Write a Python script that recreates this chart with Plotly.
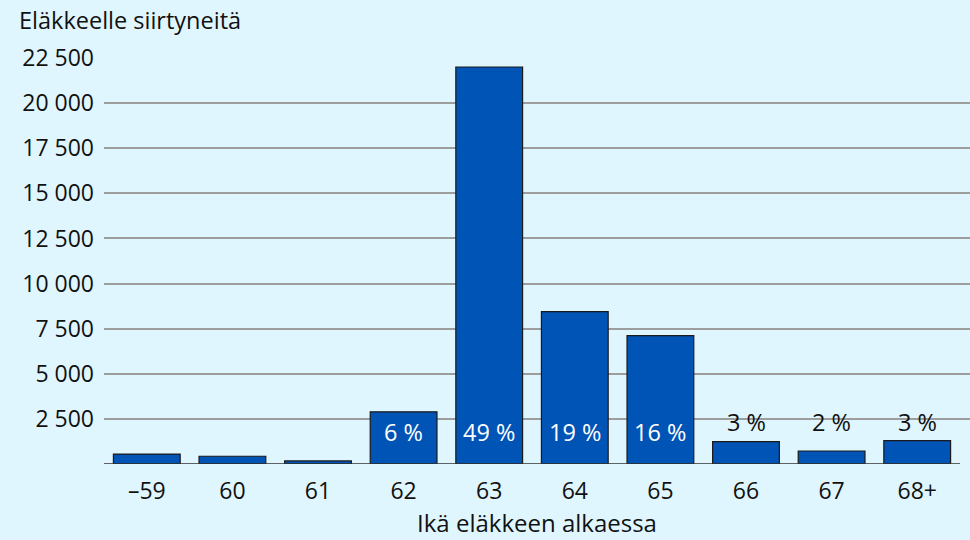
import plotly.graph_objects as go

# Eläkkeelle siirtyneet iän mukaan
ages = ["–59", "60", "61", "62", "63", "64", "65", "66", "67", "68+"]
counts = [550, 430, 170, 2890, 22000, 8440, 7110, 1240, 720, 1290]
pct_labels = ["", "", "", "6 %", "49 %", "19 %", "16 %", "3 %", "2 %", "3 %"]

y_ticks = [2500, 5000, 7500, 10000, 12500, 15000, 17500, 20000, 22500]
y_ticktext = ["2 500", "5 000", "7 500", "10 000", "12 500", "15 000", "17 500", "20 000", "22 500"]

BG = "#e0f6fe"
BAR = "#0054b6"
FONT = "Open Sans"

fig = go.Figure()
fig.add_trace(go.Bar(
    x=ages, y=counts,
    marker=dict(color=BAR, line=dict(color="#1a1a1a", width=1.2)),
    hoverinfo="x+y",
))

# prosenttiosuudet: isoissa pylväissä valkoisena sisällä, pienissä mustana yläpuolella
# (kategoria-akselilla numeronnäköinen x tulkitaan indeksiksi, joten käytetään indeksiä)
for i, (cnt, lab) in enumerate(zip(counts, pct_labels)):
    if not lab:
        continue
    inside = cnt > 2500
    fig.add_annotation(
        x=i, y=1800 if inside else 2330,
        text=lab, showarrow=False, yanchor="middle",
        font=dict(color="white" if inside else "#111111", size=23.5, family=FONT),
    )

# perusviiva vain pylväiden alueelle, ruudukko jatkuu reunaan asti
fig.add_shape(type="line", xref="x", yref="y", x0=-0.5, x1=len(ages) - 0.5, y0=0, y1=0,
              line=dict(color="#333333", width=1.5))

fig.add_annotation(
    xref="paper", yref="paper", x=-0.1, y=1.093,
    xanchor="left", yanchor="middle", showarrow=False,
    text="Eläkkeelle siirtyneitä",
    font=dict(size=23.5, color="#111111", family=FONT),
)

fig.update_layout(
    width=970, height=540,
    margin=dict(l=104, r=0, t=58, b=76),
    paper_bgcolor=BG, plot_bgcolor=BG,
    font=dict(family=FONT, size=23, color="#111111"),
    showlegend=False,
    bargap=0.22,
    xaxis=dict(
        type="category", range=[-0.5, len(ages) - 0.5 + 10 / 85.6],
        showgrid=False, showline=False,
        ticks="", tickfont=dict(size=23), ticklabelstandoff=11,
        title=dict(text="Ikä eläkkeen alkaessa", font=dict(size=24), standoff=0),
    ),
    yaxis=dict(
        range=[0, 22500], tickvals=y_ticks, ticktext=y_ticktext,
        showgrid=True, gridcolor="#9d9d9d", gridwidth=1.5,
        zeroline=False, ticks="", tickfont=dict(size=23), ticklabelstandoff=9,
    ),
)

fig.write_html("out.html", config={"displayModeBar": False},
               post_script="document.body.style.margin='0';")
